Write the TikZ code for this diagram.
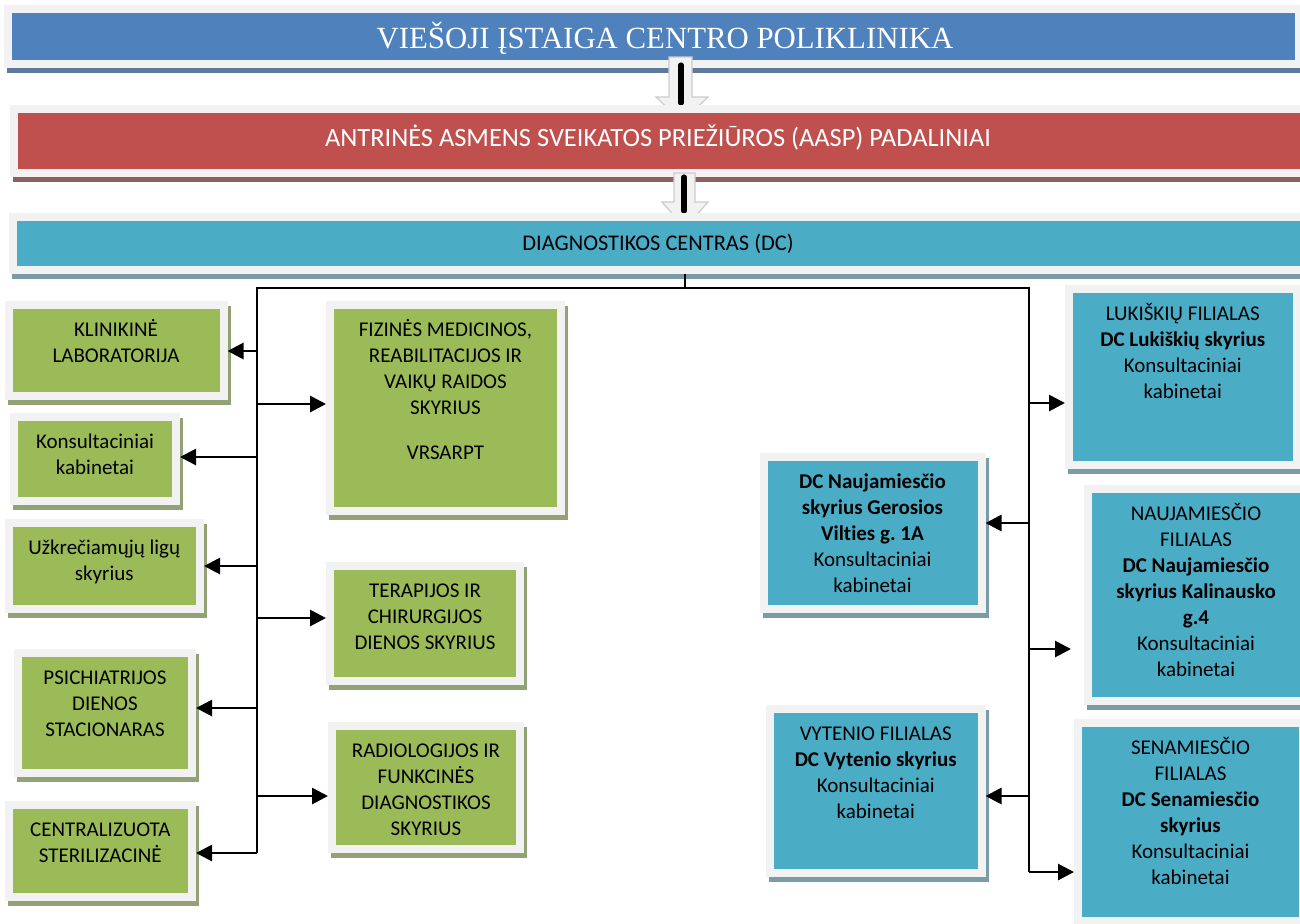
\documentclass[tikz,border=0pt]{standalone}
\usepackage{fontspec}
\setmainfont{Carlito}[Ligatures=NoCommon]
\newfontfamily\titlefont{Liberation Serif}
\usetikzlibrary{arrows.meta}
\usetikzlibrary{positioning}
\frenchspacing

\definecolor{framegray}{HTML}{F2F2F2}
\definecolor{dcblue}{HTML}{4F81BD}
\definecolor{dcred}{HTML}{C0504D}
\definecolor{dcteal}{HTML}{4BACC6}
\definecolor{dcgreen}{HTML}{9BBB59}
\definecolor{blueshade}{HTML}{5E7A99}
\definecolor{redshade}{HTML}{8F5E5C}
\definecolor{tealshade}{HTML}{7A9CA6}
\definecolor{greenshade}{HTML}{93A176}

\newcommand{\boxfont}{\fontsize{10.5pt}{13pt}\selectfont}
\newcommand{\unittext}[1]{\begin{tabular}[t]{@{}c@{}}#1\end{tabular}}

\tikzset{
    unit/.style 2 args={rectangle, inner sep=0pt, outer sep=4pt, fill=#1,
        preaction={draw=#2, fill=#2, line width=8pt,
                   transform canvas={xshift=1.5pt, yshift=-2.5pt}},
        preaction={draw=framegray, line width=8pt}},
    bluebar/.style={unit={dcblue}{blueshade}},
    redbar/.style={unit={dcred}{redshade}},
    tealbar/.style={unit={dcteal}{tealshade}},
    greenbox/.style={unit={dcgreen}{greenshade}},
    tealbox/.style={unit={dcteal}{tealshade}},
    bartext/.style={anchor=base, inner sep=0pt},
    boxtext/.style={anchor=base, inner sep=0pt, font=\boxfont},
    trunk/.style={line width=1.4pt},
    branch/.style={line width=1.4pt, -{Triangle[length=8pt,width=8pt]}},
    blockarrow/.style={fill=framegray, draw=gray!40, line width=0.6pt},
    pin/.style={line width=2.6pt, line cap=round},
}

\begin{document}
\begin{tikzpicture}[x=0.5pt, y=-0.5pt]
    \useasboundingbox (0,0) rectangle (1300,923);

    % top levels
    \node[bluebar, minimum width=641.5pt, minimum height=23.5pt] (vsi) at (653.5,36.5) {};
    \node[bartext, text=white, font=\titlefont\fontsize{15.4pt}{18pt}\selectfont] (vsitxt) at (665,48)
        {VIEŠOJI ĮSTAIGA CENTRO POLIKLINIKA};

    \filldraw[blockarrow] (669,57) -- (692,57) -- (692,97) -- (708,97) -- (682,122)
        -- (656,97) -- (669,97) -- cycle;
    \draw[pin] (681,65) -- (681,103);

    \node[redbar, minimum width=643.5pt, minimum height=28pt] (aasp) at (661.5,141) {};
    \node[bartext, text=white, font=\fontsize{13.2pt}{16pt}\selectfont] (aasptxt) at (658,146)
        {ANTRINĖS ASMENS SVEIKATOS PRIEŽIŪROS (AASP) PADALINIAI};

    \filldraw[blockarrow] (674,173) -- (695,173) -- (695,202) -- (708,202) -- (685,228)
        -- (662,202) -- (674,202) -- cycle;
    \draw[pin] (684,177) -- (684,211);

    \node[tealbar, minimum width=644pt, minimum height=22.5pt] (dc) at (661,243.5) {};
    \node[bartext, font=\fontsize{11.2pt}{14pt}\selectfont] (dctxt) at (658,250)
        {DIAGNOSTIKOS CENTRAS (DC)};

    % left column
    \node[greenbox, minimum width=103.5pt, minimum height=41.5pt] (lab) at (116,350.5) {};
    \node[boxtext] (labtxt) at ([yshift=-17.75pt]lab.north) {\unittext{KLINIKINĖ\\LABORATORIJA}};
    \node[greenbox, minimum width=77pt, minimum height=38pt] (kons) at (95,459) {};
    \node[boxtext] (konstxt) at ([yshift=-17.75pt]kons.north) {\unittext{Konsultaciniai\\kabinetai}};
    \node[greenbox, minimum width=91.75pt, minimum height=39pt] (uzkr) at (104.25,566) {};
    \node[boxtext] (uzkrtxt) at ([yshift=-17.75pt]uzkr.north) {\unittext{Užkrečiamųjų ligų\\skyrius}};
    \node[greenbox, minimum width=83pt, minimum height=56pt] (psich) at (105,713) {};
    \node[boxtext] (psichtxt) at ([yshift=-17.75pt]psich.north) {\unittext{PSICHIATRIJOS\\DIENOS\\STACIONARAS}};
    \node[greenbox, minimum width=87.75pt, minimum height=42pt] (steril) at (100.25,851) {};
    \node[boxtext] (steriltxt) at ([yshift=-17.75pt]steril.north) {\unittext{CENTRALIZUOTA\\STERILIZACINĖ}};

    % middle column
    \node[greenbox, minimum width=111.5pt, minimum height=99pt] (fiz) at (445.5,408) {};
    \node[boxtext] (fiztxt) at ([yshift=-17.75pt]fiz.north)
        {\unittext{FIZINĖS MEDICINOS,\\REABILITACIJOS IR\\VAIKŲ RAIDOS\\SKYRIUS\\[9.5pt]VRSARPT}};
    \node[greenbox, minimum width=91pt, minimum height=53.5pt] (terap) at (425,623.5) {};
    \node[boxtext] (teraptxt) at ([yshift=-17.75pt]terap.north) {\unittext{TERAPIJOS IR\\CHIRURGIJOS\\DIENOS SKYRIUS}};
    \node[greenbox, minimum width=90pt, minimum height=57.5pt] (radio) at (426,787.5) {};
    \node[boxtext] (radiotxt) at ([yshift=-17.75pt]radio.north) {\unittext{RADIOLOGIJOS IR\\FUNKCINĖS\\DIAGNOSTIKOS\\SKYRIUS}};

    % branches
    \node[tealbox, minimum width=105pt, minimum height=72pt] (geros) at (872.5,533) {};
    \node[boxtext] (gerostxt) at ([yshift=-17.75pt]geros.north)
        {\unittext{\textbf{DC Naujamiesčio}\\\textbf{skyrius Gerosios}\\\textbf{Vilties g. 1A}\\Konsultaciniai\\kabinetai}};
    \node[tealbox, minimum width=101.75pt, minimum height=78pt] (vyt) at (875.75,791) {};
    \node[boxtext] (vyttxt) at ([yshift=-17.75pt]vyt.north)
        {\unittext{VYTENIO FILIALAS\\\textbf{DC Vytenio skyrius}\\Konsultaciniai\\kabinetai}};
    \node[tealbox, minimum width=109.75pt, minimum height=84pt] (luk) at (1182.75,377) {};
    \node[boxtext] (luktxt) at ([yshift=-17.75pt]luk.north)
        {\unittext{LUKIŠKIŲ FILIALAS\\\textbf{DC Lukiškių skyrius}\\Konsultaciniai\\kabinetai}};
    \node[tealbox, minimum width=104pt, minimum height=102pt] (naujam) at (1196,595) {};
    \node[boxtext] (naujamtxt) at ([yshift=-17.75pt]naujam.north)
        {\unittext{NAUJAMIESČIO\\FILIALAS\\\textbf{DC Naujamiesčio}\\\textbf{skyrius Kalinausko}\\\textbf{g.4}\\Konsultaciniai\\kabinetai}};
    \node[tealbox, minimum width=108.5pt, minimum height=95pt] (senam) at (1190.5,822) {};
    \node[boxtext] (senamtxt) at ([yshift=-17.75pt]senam.north)
        {\unittext{SENAMIESČIO\\FILIALAS\\\textbf{DC Senamiesčio}\\\textbf{skyrius}\\Konsultaciniai\\kabinetai}};

    % connectors
    \coordinate (hub) at (685,288);
    \coordinate (ltop) at (257,288);
    \coordinate (rtop) at (1029,288);
    \coordinate (lend) at (257,853);
    \coordinate (rend) at (1029,872);
    \draw[trunk] (hub |- dc.south) -- (hub);
    \draw[trunk] (lend) -- (ltop) -- (rtop) -- (rend);

    \foreach \n/\y in {lab/351, kons/457, uzkr/566, psich/708, steril/853}{
        \coordinate (b\n) at (257,\y);
        \draw[branch] (b\n) -- (b\n -| \n.east);
    }
    \foreach \n/\y in {fiz/404, terap/618, radio/796}{
        \coordinate (b\n) at (257,\y);
        \draw[branch] (b\n) -- (b\n -| \n.west);
    }
    \foreach \n/\y in {geros/523, vyt/796}{
        \coordinate (b\n) at (1029,\y);
        \draw[branch] (b\n) -- (b\n -| \n.east);
    }
    \foreach \n/\y in {luk/403, senam/872}{
        \coordinate (b\n) at (1029,\y);
        \draw[branch] (b\n) -- (b\n -| \n.west);
    }
    \coordinate (bnaujam) at (1029,649);
    \draw[branch, shorten >=6.5pt] (bnaujam) -- (bnaujam -| naujam.west);
\end{tikzpicture}
\end{document}
